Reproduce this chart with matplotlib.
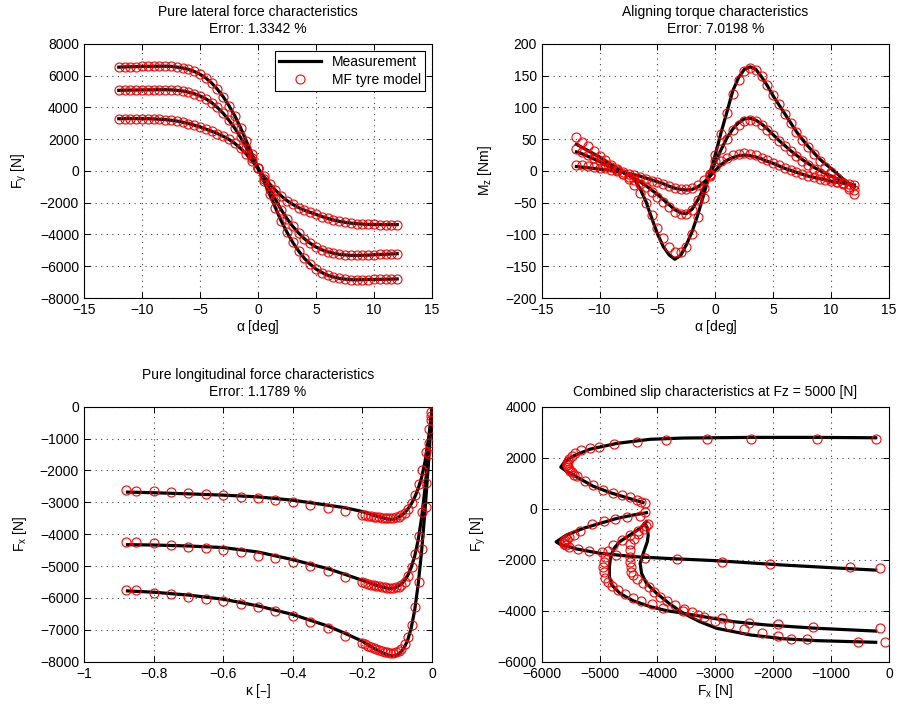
import matplotlib
matplotlib.use("Agg")
import matplotlib.pyplot as plt

plt.rcParams['font.family'] = ['Liberation Sans', 'DejaVu Sans']
plt.rcParams['font.size'] = 10
plt.rcParams['mathtext.default'] = 'regular'

#-------------------
# Pure lateral force, slip angle sweep [deg]
alpha = [-12, -11.5, -11, -10.5, -10, -9.5, -9, -8.5, -8, -7.5, -7, -6.5, -6, -5.5, -5, -4.5,
         -4, -3.5, -3, -2.5, -2, -1.5, -1, -0.5, 0, 0.5, 1, 1.5, 2, 2.5, 3, 3.5, 4, 4.5,
         5, 5.5, 6, 6.5, 7, 7.5, 8, 8.5, 9, 9.5, 10, 10.5, 11, 11.5, 12]

fy_high = [6540, 6555, 6565, 6575, 6585, 6590, 6595, 6600, 6600, 6590, 6545, 6490, 6395, 6270, 6095, 5855,
           5550, 5150, 4680, 4110, 3475, 2720, 1880, 1045, 205, -635, -1470, -2310, -3145, -3860, -4500, -5035,
           -5505, -5870, -6175, -6395, -6560, -6675, -6765, -6810, -6850, -6855, -6845, -6835, -6830, -6825,
           -6818, -6810, -6800]
fy_mid = [5080, 5090, 5095, 5100, 5105, 5110, 5115, 5120, 5120, 5110, 5080, 5040, 4965, 4865, 4730, 4545,
          4310, 4000, 3635, 3190, 2700, 2110, 1460, 810, 160, -490, -1140, -1790, -2440, -3000, -3490, -3905,
          -4270, -4555, -4790, -4960, -5090, -5180, -5250, -5285, -5315, -5320, -5310, -5300, -5280, -5260,
          -5245, -5225, -5210]
fy_low = [3290, 3295, 3300, 3300, 3295, 3290, 3280, 3260, 3235, 3195, 3145, 3075, 2990, 2890, 2775, 2640,
          2505, 2360, 2190, 1990, 1740, 1425, 1060, 625, 160, -340, -805, -1205, -1570, -1870, -2105, -2305,
          -2470, -2605, -2735, -2870, -2985, -3085, -3170, -3235, -3285, -3320, -3345, -3365, -3370, -3375,
          -3380, -3380, -3375]

#-------------------
# Aligning torque [Nm]
mz_high_meas = [42, 37, 32, 27, 22, 16, 10, 4, -2, -6, -13, -28, -48, -74, -99, -119,
                -132, -139, -133, -116, -95, -68, -37, -5, 26, 61, 93, 126, 147, 160, 164, 160,
                148, 134, 118, 104, 90, 76, 62, 50, 39, 29, 19, 11, 4, -4, -12, -19, -25]
mz_high_mod = [53, 46, 39, 32, 24, 17, 10, 3, -4, -12, -22, -35, -51, -70, -89, -106,
               -119, -127, -128, -119, -100, -73, -42, -8, 25, 59, 91, 121, 144, 157, 162, 159,
               149, 135, 120, 105, 90, 76, 62, 49, 37, 26, 16, 7, -2, -11, -19, -28, -36]
mz_mid_meas = [30, 27, 23, 19, 15, 10, 6, 2, -2, -7, -12, -17, -23, -30, -37, -45,
               -53, -61, -66, -67, -60, -45, -27, -7, 14, 34, 52, 66, 76, 82, 83, 80,
               74, 66, 57, 48, 40, 32, 25, 18, 12, 6, 1, -4, -8, -12, -16, -21, -25]
mz_mid_mod = [34, 30, 25, 20, 16, 11, 6, 1, -4, -9, -14, -20, -26, -33, -41, -49,
              -57, -64, -68, -68, -61, -46, -27, -6, 15, 34, 51, 64, 73, 79, 80, 78,
              72, 64, 56, 47, 39, 31, 23, 16, 9, 3, -3, -8, -13, -17, -21, -26, -30]
mz_low_meas = [7, 6, 5, 4, 3, 2, 1, -1, -2, -4, -6, -8, -11, -14, -17, -20,
               -24, -27, -29, -30, -29, -25, -18, -9, 1, 10, 17, 21, 24, 25, 24, 22,
               19, 15, 12, 8, 4, 1, -2, -5, -8, -10, -12, -14, -16, -18, -19, -21, -22]
mz_low_mod = [10, 9, 8, 7, 5, 4, 2, 0, -2, -4, -6, -9, -12, -15, -18, -21,
              -24, -27, -29, -29, -27, -22, -14, -4, 6, 15, 21, 25, 27, 28, 27, 25,
              21, 17, 13, 9, 5, 1, -2, -5, -8, -10, -12, -14, -16, -18, -19, -21, -22]

#-------------------
# Pure longitudinal force, measurement
kappa_meas = [-0.875, -0.8, -0.7, -0.6, -0.5, -0.4, -0.3, -0.25, -0.2, -0.17, -0.15, -0.13, -0.12,
              -0.11, -0.1, -0.09, -0.08, -0.07, -0.06, -0.05, -0.04, -0.03, -0.02, -0.01, -0.005, 0]
fx_low_meas = [-2680, -2700, -2735, -2775, -2830, -2935, -3090, -3170, -3290, -3400, -3460, -3520, -3540,
               -3530, -3490, -3430, -3340, -3220, -3060, -2850, -2580, -2230, -1720, -1000, -550, -100]
fx_mid_meas = [-4330, -4340, -4370, -4420, -4560, -4800, -5080, -5260, -5450, -5570, -5640, -5690, -5700,
               -5690, -5650, -5580, -5470, -5300, -5050, -4700, -4200, -3500, -2550, -1350, -700, -100]
fx_high_meas = [-5780, -5820, -5910, -6040, -6250, -6520, -6880, -7110, -7360, -7560, -7680, -7780, -7810,
                -7820, -7790, -7700, -7560, -7330, -6950, -6400, -5600, -4550, -3250, -1750, -900, -100]

# Pure longitudinal force, MF model
kappa_mod = [-0.878, -0.85, -0.8, -0.75, -0.7, -0.65, -0.6, -0.55, -0.5, -0.45, -0.4, -0.35, -0.3,
             -0.25, -0.2, -0.192, -0.184, -0.176, -0.168, -0.16, -0.152, -0.144, -0.136, -0.128,
             -0.12, -0.112, -0.104, -0.096, -0.088, -0.078, -0.068, -0.058, -0.048, -0.038, -0.028,
             -0.018, -0.008, -0.002]
fx_low_mod = [-2620, -2630, -2655, -2685, -2715, -2745, -2780, -2820, -2870, -2935, -3005, -3080, -3170,
              -3280, -3390, -3410, -3425, -3440, -3455, -3465, -3475, -3485, -3490, -3495,
              -3495, -3490, -3475, -3450, -3410, -3330, -3200, -3020, -2760, -2420, -1980,
              -1420, -690, -170]
fx_mid_mod = [-4230, -4250, -4290, -4340, -4390, -4445, -4500, -4570, -4670, -4760, -4865, -5000, -5145,
              -5330, -5500, -5530, -5555, -5580, -5600, -5620, -5640, -5655, -5668, -5677,
              -5682, -5680, -5670, -5645, -5600, -5500, -5320, -5040, -4620, -4050, -3300,
              -2400, -1150, -300]
fx_high_mod = [-5740, -5760, -5830, -5890, -5960, -6025, -6100, -6190, -6300, -6420, -6560, -6745, -6950,
               -7190, -7420, -7460, -7500, -7540, -7580, -7610, -7640, -7665, -7690, -7705,
               -7715, -7715, -7700, -7660, -7590, -7460, -7230, -6860, -6300, -5500, -4450,
               -3150, -1500, -420]

#-------------------
# Combined slip at Fz = 5000 N, measurement (Fx, Fy)
cx1 = [-230, -1250, -2400, -3550, -4130, -4700, -5170, -5450, -5600, -5670, -5580, -5400, -5110, -4820, -4530, -4250]
cy1 = [2780, 2795, 2795, 2770, 2720, 2560, 2330, 2070, 1850, 1630, 1480, 1250, 880, 630, 430, 240]
cx2 = [-230, -1830, -2980, -3840, -4420, -4990, -5400, -5680, -5750, -5570, -5280, -4990, -4700, -4420, -4190]
cy2 = [-2410, -2210, -2040, -1950, -1880, -1750, -1580, -1400, -1300, -1030, -770, -575, -380, -250, -160]
cx3 = [-230, -1250, -2120, -2690, -3210, -3555, -3840, -4130, -4420, -4650, -4790, -4830, -4830, -4810,
       -4750, -4650, -4475, -4300, -4190]
cy3 = [-4800, -4690, -4560, -4430, -4235, -4100, -4000, -3840, -3610, -3320, -2990, -2670, -2270, -1880,
       -1555, -1290, -1030, -770, -510]
cx4 = [-230, -1250, -1830, -2400, -2980, -3270, -3555, -3785, -4015, -4190, -4275, -4300, -4245, -4175,
       -4160, -4175, -4215]
cy4 = [-5240, -5175, -5100, -4950, -4690, -4430, -4100, -3740, -3320, -2930, -2535, -2140, -1750, -1290,
       -1030, -770, -575]

# Combined slip, MF model (Fx, Fy)
mx1 = [-230, -1250, -2390, -3150, -3860, -4360, -4750, -5010, -5170, -5320, -5420, -5480, -5520, -5545,
       -5555, -5555, -5545, -5530, -5510, -5480, -5440, -5390, -5250, -5110, -4940, -4760, -4620, -4480,
       -4360, -4280, -4220]
my1 = [2720, 2730, 2730, 2720, 2690, 2630, 2520, 2430, 2370, 2300, 2170, 2050, 1960, 1870,
       1790, 1710, 1630, 1560, 1490, 1420, 1340, 1270, 1100, 930, 730, 630, 540, 450,
       340, 280, 210]
mx2 = [-150, -680, -2060, -2890, -3670, -4220, -4720, -4950, -5180, -5380, -5520, -5580, -5610, -5620,
       -5610, -5590, -5560, -5520, -5440, -5330, -5130, -4930, -4730, -4530, -4300, -4210]
my2 = [-2340, -2300, -2180, -2090, -1990, -1950, -1815, -1690, -1660, -1580, -1490, -1430, -1380, -1330,
       -1280, -1230, -1180, -1130, -1030, -860, -600, -470, -400, -340, -270, -140]
mx3 = [-160, -1310, -1915, -2415, -2890, -3300, -3560, -3900, -4100, -4280, -4430, -4560, -4680, -4780,
       -4850, -4900, -4930, -4940, -4930, -4900, -4850, -4760, -4620, -4470, -4330, -4200]
my3 = [-4690, -4625, -4520, -4470, -4280, -4160, -4030, -3880, -3750, -3620, -3500, -3350, -3200, -3050,
       -2880, -2700, -2500, -2300, -2100, -1900, -1650, -1420, -1220, -1040, -870, -680]
mx4 = [-75, -535, -1425, -1685, -1925, -2200, -2500, -2770, -3000, -3200, -3400, -3550, -3700, -3830,
       -3950, -4060, -4150, -4250, -4350, -4420, -4450, -4460, -4470, -4470, -4480, -4470, -4410, -4330,
       -4240, -4160]
my4 = [-5240, -5240, -5110, -5095, -4980, -4890, -4730, -4560, -4400, -4230, -4050, -3920, -3780, -3620,
       -3450, -3260, -3070, -2930, -2750, -2600, -2480, -2300, -2100, -1900, -1640, -1380, -1180, -990,
       -790, -600]

#-------------------

def styleAxes(ax):
    """MATLAB-like box, inward ticks and dotted grid."""
    ax.grid(True, color='0.25', linestyle=(0, (1, 4)), linewidth=0.8)
    ax.tick_params(direction='in', top=True, right=True, length=4, width=0.7, labelsize=10)
    for s in ax.spines.values():
        s.set_linewidth(0.8)

def measLine(ax, x, y):
    return ax.plot(x, y, color='k', linewidth=2.3, zorder=2)[0]

def modelMarks(ax, x, y):
    return ax.plot(x, y, linestyle='none', marker='o', markersize=6.5, markerfacecolor='none',
                   markeredgecolor='r', markeredgewidth=0.8, zorder=3)[0]

def twoLineTitle(ax, text):
    ax.set_title(text, fontsize=10, pad=8, linespacing=1.25)

fig = plt.figure(figsize=(9, 7.07), dpi=100)
ax1 = fig.add_axes([0.0933, 0.5785, 0.3867, 0.3593])
ax2 = fig.add_axes([0.6019, 0.5785, 0.3859, 0.3593])
ax3 = fig.add_axes([0.0933, 0.0641, 0.3867, 0.3607])
ax4 = fig.add_axes([0.6019, 0.0641, 0.3859, 0.3607])

# Pure lateral force
for fy in [fy_high, fy_mid, fy_low]:
    h_meas = measLine(ax1, alpha, fy)
    h_mod = modelMarks(ax1, alpha, fy)
ax1.set_xlim(-15, 15)
ax1.set_ylim(-8000, 8000)
ax1.set_xticks(range(-15, 16, 5))
ax1.set_yticks(range(-8000, 8001, 2000))
ax1.set_xlabel(r'$\alpha$ [deg]', labelpad=1)
ax1.set_ylabel('F$_y$ [N]', labelpad=8)
twoLineTitle(ax1, 'Pure lateral force characteristics\nError: 1.3342 %')
leg = ax1.legend([h_meas, h_mod], ['Measurement', 'MF tyre model'], loc='upper right',
                 fancybox=False, edgecolor='k', framealpha=1, handlelength=3, borderaxespad=0.5,
                 fontsize=10, borderpad=0.3, labelspacing=0.3)
leg.get_frame().set_linewidth(0.8)
styleAxes(ax1)

# Aligning torque
for meas, mod in [(mz_high_meas, mz_high_mod), (mz_mid_meas, mz_mid_mod), (mz_low_meas, mz_low_mod)]:
    measLine(ax2, alpha, meas)
    modelMarks(ax2, alpha, mod)
ax2.set_xlim(-15, 15)
ax2.set_ylim(-200, 200)
ax2.set_xticks(range(-15, 16, 5))
ax2.set_yticks(range(-200, 201, 50))
ax2.set_xlabel(r'$\alpha$ [deg]', labelpad=1)
ax2.set_ylabel('M$_z$ [Nm]', labelpad=8)
twoLineTitle(ax2, 'Aligning torque characteristics\nError: 7.0198 %')
styleAxes(ax2)

# Pure longitudinal force
for meas, mod in [(fx_low_meas, fx_low_mod), (fx_mid_meas, fx_mid_mod), (fx_high_meas, fx_high_mod)]:
    measLine(ax3, kappa_meas, meas)
    modelMarks(ax3, kappa_mod, mod)
ax3.set_xlim(-1, 0)
ax3.set_ylim(-8000, 0)
ax3.set_xticks([-1, -0.8, -0.6, -0.4, -0.2, 0])
ax3.set_xticklabels(['\u22121', '\u22120.8', '\u22120.6', '\u22120.4', '\u22120.2', '0'])
ax3.set_yticks(range(-8000, 1, 1000))
ax3.set_xlabel('$\\kappa$ [\u2013]', labelpad=1)
ax3.set_ylabel('F$_x$ [N]', labelpad=8)
twoLineTitle(ax3, 'Pure longitudinal force characteristics\nError: 1.1789 %')
styleAxes(ax3)

# Combined slip
for x, y in [(cx1, cy1), (cx2, cy2), (cx3, cy3), (cx4, cy4)]:
    measLine(ax4, x, y)
for x, y in [(mx1, my1), (mx2, my2), (mx3, my3), (mx4, my4)]:
    modelMarks(ax4, x, y)
ax4.set_xlim(-6000, 0)
ax4.set_ylim(-6000, 4000)
ax4.set_xticks(range(-6000, 1, 1000))
ax4.set_yticks(range(-6000, 4001, 2000))
ax4.set_xlabel('F$_x$ [N]', labelpad=1)
ax4.set_ylabel('F$_y$ [N]', labelpad=7)
ax4.set_title('Combined slip characteristics at Fz = 5000 [N]', fontsize=10, pad=8)
styleAxes(ax4)

fig.savefig('out.png', dpi=100)
